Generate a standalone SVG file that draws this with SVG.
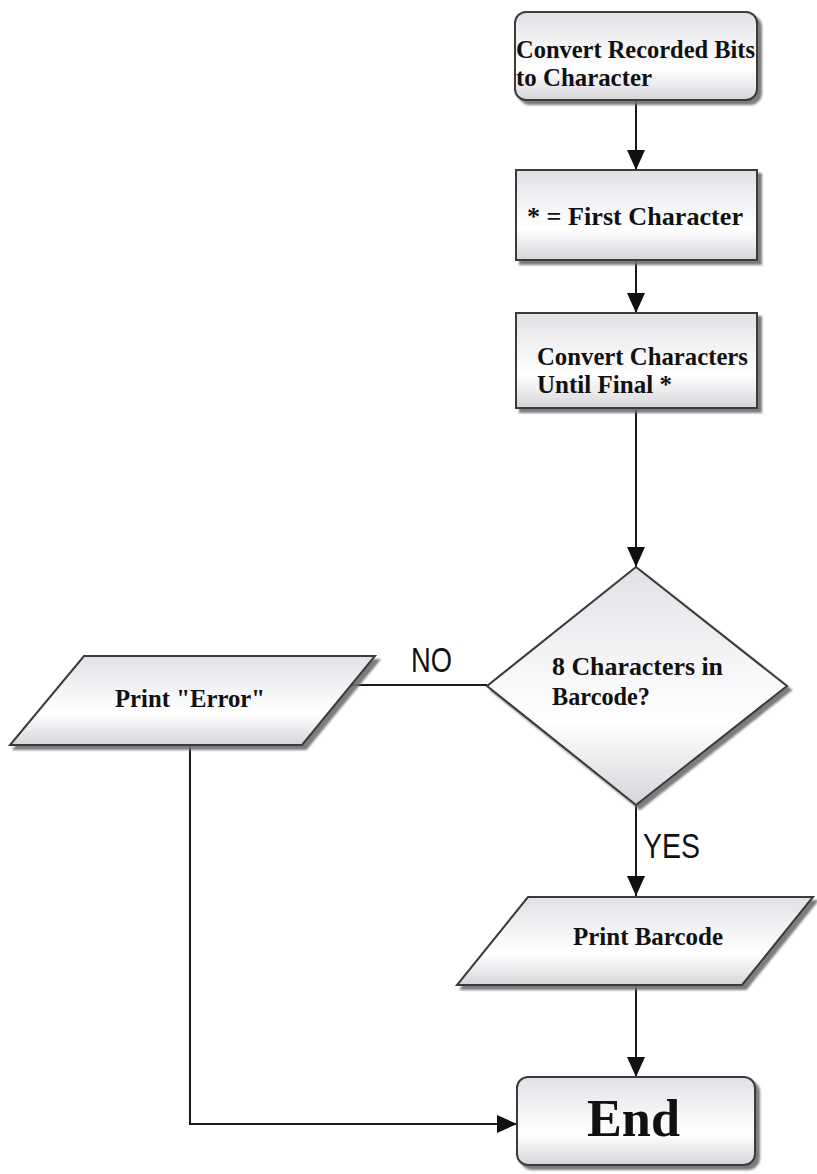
<svg xmlns="http://www.w3.org/2000/svg" width="817" height="1174" viewBox="0 0 817 1174">
<defs>
<linearGradient id="g" x1="0" y1="0" x2="0" y2="1">
<stop offset="0" stop-color="#e2e0e5"/>
<stop offset="0.45" stop-color="#f7f7f9"/>
<stop offset="0.65" stop-color="#ffffff"/>
<stop offset="1" stop-color="#d6d4da"/>
</linearGradient>
<filter id="sh" x="-10%" y="-10%" width="130%" height="130%">
<feDropShadow dx="4" dy="4" stdDeviation="1" flood-color="#6e6e6e" flood-opacity="0.9"/>
</filter>
<marker id="ah" viewBox="0 0 20 18" refX="20" refY="9" markerWidth="20" markerHeight="18" markerUnits="userSpaceOnUse" orient="auto">
<path d="M0,0 L20,9 L0,18 Z" fill="#111"/>
</marker>
<style>
.shape{fill:url(#g);stroke:#3a3a3a;stroke-width:2;filter:url(#sh);}
.t{font-family:"Liberation Serif","Times New Roman",serif;font-weight:bold;fill:#111;font-size:26px;}
.lbl{font-family:"Liberation Sans Narrow","Liberation Sans",Arial,sans-serif;fill:#111;font-size:35px;}
.c{fill:none;stroke:#1a1a1a;stroke-width:2;}
</style>
</defs>
<g id="connectors">
<path class="c" d="M636,100 L636,170" marker-end="url(#ah)"/>
<path class="c" d="M636,261 L636,313" marker-end="url(#ah)"/>
<path class="c" d="M636,409 L636,567" marker-end="url(#ah)"/>
<path class="c" d="M351,685 L487,685"/>
<path class="c" d="M636,806 L636,896" marker-end="url(#ah)"/>
<path class="c" d="M636,986 L636,1077" marker-end="url(#ah)"/>
<path class="c" d="M190,746 L190,1124 L517,1124" marker-end="url(#ah)"/>
<text class="lbl" x="411" y="672" textLength="41" lengthAdjust="spacingAndGlyphs">NO</text>
<text class="lbl" x="643" y="858" textLength="57" lengthAdjust="spacingAndGlyphs">YES</text>
</g>
<g id="n1">
<rect class="shape" x="515" y="12" width="242" height="88" rx="11"/>
<text class="t" x="516" y="58" textLength="239" lengthAdjust="spacingAndGlyphs">Convert Recorded Bits</text>
<text class="t" x="516" y="86" textLength="136" lengthAdjust="spacingAndGlyphs">to Character</text>
</g>
<g id="n2">
<rect class="shape" x="516" y="170" width="241" height="90"/>
<text class="t" x="527" y="225" textLength="216" lengthAdjust="spacingAndGlyphs">* = First Character</text>
</g>
<g id="n3">
<rect class="shape" x="516" y="313" width="241" height="95"/>
<text class="t" x="537" y="365" textLength="211" lengthAdjust="spacingAndGlyphs">Convert Characters</text>
<text class="t" x="537" y="393" textLength="135" lengthAdjust="spacingAndGlyphs">Until Final *</text>
</g>
<g id="n4">
<polygon class="shape" points="636,567 787,686 636,805 487,686"/>
<text class="t" x="552" y="675" textLength="171" lengthAdjust="spacingAndGlyphs">8 Characters in</text>
<text class="t" x="552" y="705" textLength="98" lengthAdjust="spacingAndGlyphs">Barcode?</text>
</g>
<g id="n5">
<polygon class="shape" points="84,656 375,656 302,745 10,745"/>
<text class="t" x="115" y="707" textLength="150" lengthAdjust="spacingAndGlyphs">Print "Error"</text>
</g>
<g id="n6">
<polygon class="shape" points="528,897 813,897 742,985 457,985"/>
<text class="t" x="573" y="945" textLength="150" lengthAdjust="spacingAndGlyphs">Print Barcode</text>
</g>
<g id="n7">
<rect class="shape" x="517" y="1077" width="238" height="88" rx="11"/>
<text class="t" x="587" y="1136" textLength="93" lengthAdjust="spacingAndGlyphs" style="font-size:52px">End</text>
</g>
</svg>
